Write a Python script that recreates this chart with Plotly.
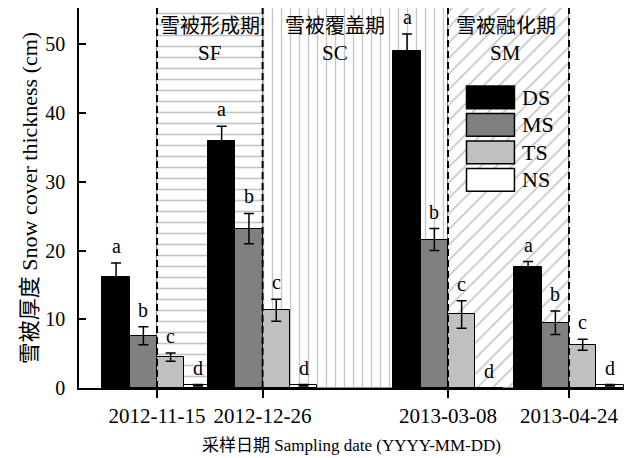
import pandas as pd
import plotly.graph_objects as go

# ---------------- data ----------------
dates = ['2012-11-15', '2012-12-26', '2013-03-08', '2013-04-24']
series_names = ['DS', 'MS', 'TS', 'NS']
ds_vals = [16.2, 36.0, 49.0, 17.6]
ds_err = [2.0, 2.1, 2.5, 0.8]
ms_vals = [7.6, 23.2, 21.6, 9.5]
ms_err = [1.3, 2.2, 1.6, 1.7]
ts_vals = [4.5, 11.3, 10.7, 6.3]
ts_err = [0.6, 1.6, 2.0, 0.8]
ns_vals = [0.4, 0.4, 0.0, 0.4]
ns_err = [0.1, 0.1, 0.0, 0.1]
sig_letters = ['a', 'b', 'c', 'd']

phase_cn = ['雪被形成期', '雪被覆盖期', '雪被融化期']
phase_en = ['SF', 'SC', 'SM']
phase_start = ['2012-11-15', '2012-12-26', '2013-03-08']
phase_end = ['2012-12-26', '2013-03-08', '2013-04-24']

y_ticks = [0, 10, 20, 30, 40, 50]

# ---------------- styles ----------------
SERIF = 'Liberation Serif, "Noto Sans CJK SC", serif'
colors = ['#000000', '#808080', '#c0c0c0', '#ffffff']
phase_patterns = ['-', '|', '/']
phase_pattern_size = [11, 9, 11]
phase_label_shift = [0, -20, -3]
PATTERN_GRAY = '#8c8c8c'
Y_TOP = 55.3
DAY_MS = 86400000
W_DAYS = 10.6
W_MS = W_DAYS * DAY_MS

vals = [ds_vals, ms_vals, ts_vals, ns_vals]
errs = [ds_err, ms_err, ts_err, ns_err]

fig = go.Figure()

# phase background regions (patterned)
p_widths = [(pd.Timestamp(e) - pd.Timestamp(s)).total_seconds() * 1000
            for s, e in zip(phase_start, phase_end)]
fig.add_trace(go.Bar(
    x=phase_start, y=[Y_TOP] * len(phase_start), width=p_widths, offset=0,
    marker=dict(color='white', line=dict(color=PATTERN_GRAY, width=1),
                pattern=dict(shape=phase_patterns, fgcolor=PATTERN_GRAY, bgcolor='white',
                             size=phase_pattern_size, solidity=0.15)),
    hoverinfo='skip', showlegend=False))

# data bars (drawn last-series first so that DS of next group sits on top)
for i in reversed(range(4)):
    fig.add_trace(go.Bar(
        x=dates, y=vals[i], name=series_names[i],
        width=W_MS, offset=(i - 2) * W_MS,
        marker=dict(color=colors[i], line=dict(color='black', width=1)),
        error_y=dict(type='data', array=errs[i], color='black', thickness=1.5, width=5),
        showlegend=False))

annotations = []
# significance letters
for i in range(4):
    for j, d in enumerate(dates):
        xc = pd.Timestamp(d) + pd.Timedelta(milliseconds=(i - 1.5) * W_MS)
        annotations.append(dict(
            x=xc.strftime('%Y-%m-%d %H:%M:%S'), y=vals[i][j] + errs[i][j],
            xref='x', yref='y', text=sig_letters[i], showarrow=False,
            yanchor='bottom', yshift=4,
            font=dict(family=SERIF, size=20, color='black')))

# phase labels
for k in range(len(phase_cn)):
    mid = pd.Timestamp(phase_start[k]) + (pd.Timestamp(phase_end[k]) - pd.Timestamp(phase_start[k])) / 2
    xm = mid.strftime('%Y-%m-%d %H:%M:%S')
    annotations.append(dict(x=xm, y=0.953, xref='x', yref='paper', text=phase_cn[k],
                            showarrow=False, xshift=phase_label_shift[k], yanchor='middle',
                            font=dict(family=SERIF, size=20, color='black')))
    annotations.append(dict(x=xm, y=0.882, xref='x', yref='paper', text=phase_en[k],
                            showarrow=False, xshift=phase_label_shift[k], yanchor='middle',
                            font=dict(family=SERIF, size=21, color='black')))

shapes = []
# dashed phase boundaries
boundaries = sorted(set(phase_start + phase_end))
for b in boundaries:
    shapes.append(dict(type='line', xref='x', yref='paper', x0=b, x1=b, y0=0, y1=1,
                       line=dict(color='black', width=2, dash='7px,4px'), layer='above'))

# manual legend
leg_x0, leg_x1 = 0.711, 0.799
leg_top = 0.795
leg_h = 0.060
leg_step = 0.0725
for i in range(4):
    yt = leg_top - i * leg_step
    yb = yt - leg_h
    shapes.append(dict(type='rect', xref='paper', yref='paper', x0=leg_x0, x1=leg_x1,
                       y0=yb, y1=yt, fillcolor=colors[i],
                       line=dict(color='black', width=1.5), layer='above'))
    annotations.append(dict(x=0.81, y=(yt + yb) / 2, xref='paper', yref='paper',
                            text=series_names[i], showarrow=False, xanchor='left',
                            yanchor='middle', font=dict(family=SERIF, size=22, color='black')))

x_left = pd.Timestamp(dates[0]) - pd.Timedelta(days=30.3)
x_right = pd.Timestamp(dates[0]) + pd.Timedelta(days=181.35)

fig.update_layout(
    width=626, height=458,
    margin=dict(l=79, r=2, t=8, b=70),
    paper_bgcolor='white', plot_bgcolor='white',
    barmode='overlay', bargap=0,
    font=dict(family=SERIF, color='black'),
    showlegend=False,
    annotations=annotations, shapes=shapes,
    xaxis=dict(type='date', range=[x_left.strftime('%Y-%m-%d %H:%M:%S'),
                                   x_right.strftime('%Y-%m-%d %H:%M:%S')],
               tickmode='array', tickvals=dates, ticktext=dates,
               ticks='outside', ticklen=8, tickwidth=1.5, tickcolor='black',
               showline=True, linecolor='black', linewidth=1.5,
               showgrid=False, zeroline=False,
               tickfont=dict(family=SERIF, size=21, color='black'),
               title=dict(text='采样日期 Sampling date (YYYY-MM-DD)',
                          font=dict(family=SERIF, size=17, color='black'), standoff=12)),
    yaxis=dict(range=[0, Y_TOP], tickmode='array', tickvals=y_ticks,
               ticks='inside', ticklen=7, tickwidth=1.5, tickcolor='black',
               showline=True, linecolor='black', linewidth=1.5,
               showgrid=False, zeroline=False, ticklabelstandoff=8,
               tickfont=dict(family=SERIF, size=20, color='black'),
               title=dict(text='雪被厚度 Snow cover thickness (cm)',
                          font=dict(family=SERIF, size=22, color='black'), standoff=2)),
)

fig.write_html('out.html')
